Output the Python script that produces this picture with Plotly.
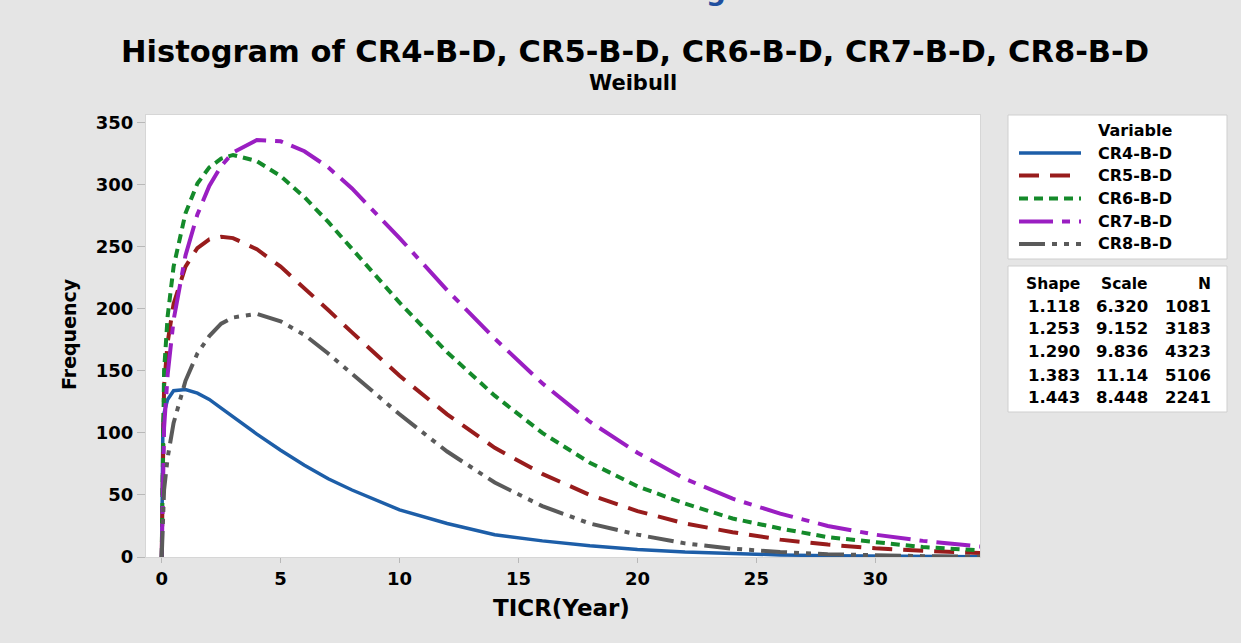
import plotly.graph_objects as go

# ---------------- data ----------------
x_vals = [0, 0.05, 0.1, 0.25, 0.5, 1, 1.5, 2, 2.5, 3, 4, 5, 6, 7, 8, 10, 12, 14,
          16, 18, 20, 22, 24, 26, 28, 30, 32, 34.4]
cr4 = [0, 107, 116, 127, 134, 135, 132, 127, 120, 113, 99, 86, 74, 63, 54, 38, 27, 18,
       13, 9, 6, 4, 2.6, 1.7, 1.1, 0.8, 0.5, 0.3]
cr5 = [0, 117, 138, 173, 204, 234, 249, 256, 258, 257, 248, 234, 217, 199, 181, 146, 115, 88,
       67, 50, 37, 27, 20, 14, 10, 7, 5, 3.2]
cr6 = [0, 123, 150, 194, 234, 277, 301, 314, 321, 324, 319, 307, 290, 270, 248, 205, 165, 130,
       100, 76, 57, 43, 31, 23, 16, 12, 8, 5.3]
cr7 = [0, 80, 104, 147, 191, 243, 276, 299, 315, 326, 336, 335, 327, 314, 297, 257, 215, 176,
       140, 109, 84, 63, 47, 35, 25, 18, 13, 8.4]
cr8 = [0, 40, 54, 80, 108, 142, 164, 178, 188, 193, 196, 190, 179, 164, 148, 115, 85, 60,
       41, 27, 18, 11, 6.7, 4, 2.3, 1.3, 0.7, 0.35]

names = ["CR4-B-D", "CR5-B-D", "CR6-B-D", "CR7-B-D", "CR8-B-D"]
series = [cr4, cr5, cr6, cr7, cr8]

shape_col = ["1.118", "1.253", "1.290", "1.383", "1.443"]
scale_col = ["6.320", "9.152", "9.836", "11.14", "8.448"]
n_col = ["1081", "3183", "4323", "5106", "2241"]

x_ticks = [0, 5, 10, 15, 20, 25, 30]
y_ticks = [0, 50, 100, 150, 200, 250, 300, 350]

# ---------------- styles ----------------
colors = ["#1d5ea8", "#981c1c", "#148a2a", "#9a1ec2", "#5a5a5a"]
dashes = ["solid", "20px,11px", "9px,6px", "34px,9px,8px,9px", "26px,7px,5px,7px,5px,7px"]
widths = [3.5, 4, 4, 4, 4]
FONT = "DejaVu Sans"

W, H = 1241, 643
L, R, T, B = 146, 980, 115, 557


def px(xp):
    return (xp - L) / (R - L)


def py(yp):
    return (B - yp) / (B - T)


fig = go.Figure()
for nm, ys, c, d, w in zip(names, series, colors, dashes, widths):
    fig.add_trace(go.Scatter(x=x_vals, y=ys, mode="lines", name=nm,
                             line=dict(color=c, dash=d, width=w),
                             showlegend=False, hoverinfo="skip"))

annotations = []
shapes = []

# cut-off blue text fragment at the very top of the page
annotations.append(dict(text="g", x=px(716), y=py(9), xref="paper", yref="paper",
                        xanchor="center", yanchor="bottom", showarrow=False,
                        font=dict(family=FONT, size=28, color="#1f4f9e", weight="bold")))

# Titles
annotations.append(dict(text="Histogram of CR4-B-D, CR5-B-D, CR6-B-D, CR7-B-D, CR8-B-D",
                        x=px(635), y=py(51), xref="paper", yref="paper",
                        xanchor="center", yanchor="middle", showarrow=False,
                        font=dict(family=FONT, size=30.5, color="black", weight="bold")))
annotations.append(dict(text="Weibull", x=px(633), y=py(83), xref="paper", yref="paper",
                        xanchor="center", yanchor="middle", showarrow=False,
                        font=dict(family=FONT, size=21, color="black", weight="bold")))
annotations.append(dict(text="TICR(Year)", x=px(561), y=py(608), xref="paper", yref="paper",
                        xanchor="center", yanchor="middle", showarrow=False,
                        font=dict(family=FONT, size=23, color="black", weight="bold")))
annotations.append(dict(text="Frequency", x=px(69), y=py(334), xref="paper", yref="paper",
                        xanchor="center", yanchor="middle", showarrow=False, textangle=-90,
                        font=dict(family=FONT, size=19, color="black", weight="bold")))

# Legend box
shapes.append(dict(type="rect", xref="paper", yref="paper", x0=px(1008), x1=px(1227),
                   y0=py(259), y1=py(115), fillcolor="white",
                   line=dict(color="#cfcfcf", width=1), layer="below"))
annotations.append(dict(text="Variable", x=px(1096), y=py(130), xref="paper", yref="paper",
                        xanchor="left", yanchor="middle", showarrow=False,
                        font=dict(family=FONT, size=16, color="black", weight="bold")))
row_y = [153, 175.5, 198.5, 221.5, 244]
for nm, c, d, w, yy in zip(names, colors, dashes, widths, row_y):
    shapes.append(dict(type="line", xref="paper", yref="paper", x0=px(1019), x1=px(1081),
                       y0=py(yy), y1=py(yy), line=dict(color=c, dash=d, width=w)))
    annotations.append(dict(text=nm, x=px(1096), y=py(yy), xref="paper", yref="paper",
                            xanchor="left", yanchor="middle", showarrow=False,
                            font=dict(family=FONT, size=16, color="black", weight="bold")))

# Table box
shapes.append(dict(type="rect", xref="paper", yref="paper", x0=px(1008), x1=px(1227),
                   y0=py(412), y1=py(266), fillcolor="white",
                   line=dict(color="#cfcfcf", width=1), layer="below"))
col_right = [1082, 1150, 1213]
headers = ["Shape", "Scale", "N"]
for hdr, xr in zip(headers, col_right):
    annotations.append(dict(text=hdr, x=px(xr), y=py(283.5), xref="paper", yref="paper",
                            xanchor="right", yanchor="middle", showarrow=False,
                            font=dict(family=FONT, size=15.5, color="black", weight="bold")))
tab_y = [306.5, 328.5, 351.5, 375, 397]
for i, yy in enumerate(tab_y):
    for col, xr in zip([shape_col, scale_col, n_col], col_right):
        annotations.append(dict(text=col[i], x=px(xr), y=py(yy), xref="paper", yref="paper",
                                xanchor="right", yanchor="middle", showarrow=False,
                                font=dict(family=FONT, size=16.5, color="black", weight="bold")))

fig.update_layout(
    width=W, height=H,
    margin=dict(l=L, r=W - R, t=T, b=H - B, pad=0),
    paper_bgcolor="#e5e5e5", plot_bgcolor="white",
    showlegend=False,
    annotations=annotations, shapes=shapes,
    xaxis=dict(range=[-0.66, 34.4], tickvals=x_ticks, ticks="outside", ticklen=5,
               tickcolor="#b8b8b8", showgrid=False, zeroline=False,
               showline=True, linecolor="#d6d6d6", mirror=True,
               tickfont=dict(family=FONT, size=18, color="black", weight="bold")),
    yaxis=dict(range=[0, 356.2], tickvals=y_ticks, ticks="outside", ticklen=8,
               tickcolor="#b8b8b8", showgrid=False, zeroline=False,
               showline=True, linecolor="#d6d6d6", mirror=True,
               tickfont=dict(family=FONT, size=18, color="black", weight="bold")),
)

fig.write_html("out.html")
